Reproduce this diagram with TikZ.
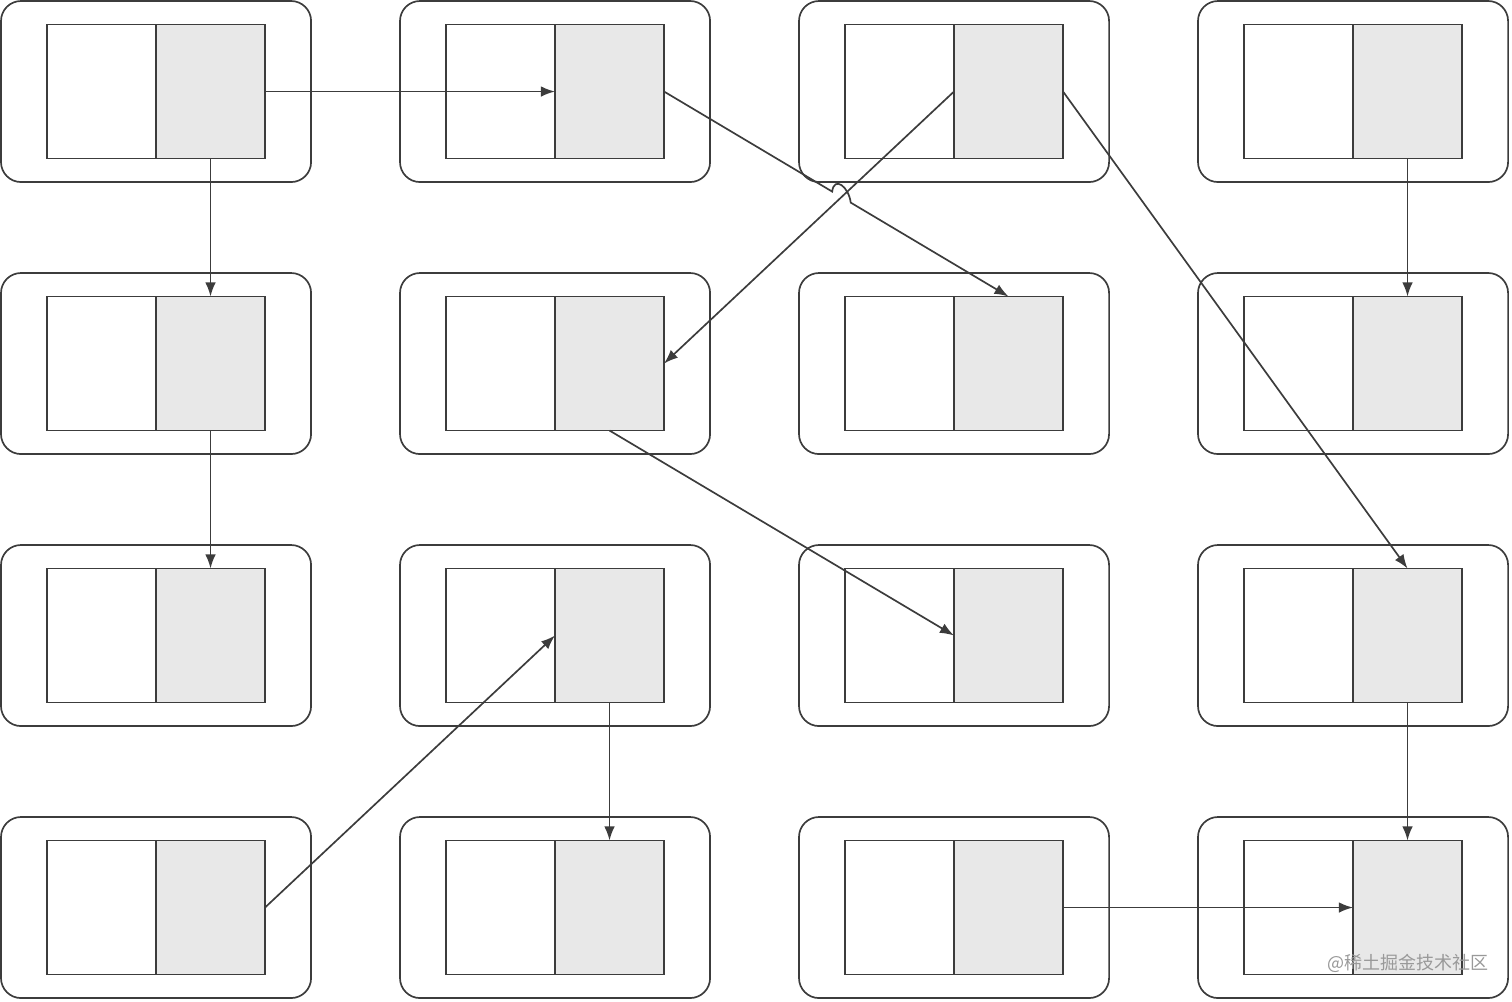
\documentclass[tikz,border=0pt]{standalone}
\usepackage{fontspec}
\newfontfamily\cjk{Noto Sans CJK SC}
\usetikzlibrary{arrows.meta,calc,intersections}
\definecolor{edge}{HTML}{3C3C3C}
\definecolor{grayfill}{HTML}{E8E8E8}
\begin{document}
\begin{tikzpicture}[x=0.025cm,y=-0.025cm,
  outerbox/.style={draw=edge,line width=1.2pt,rounded corners=0.5cm,minimum width=7.75cm,minimum height=4.525cm,inner sep=0pt,outer sep=0pt,anchor=north west},
  leftbox/.style={draw=edge,line width=1.2pt,fill=white,minimum width=2.725cm,minimum height=3.35cm,inner sep=0pt,outer sep=0pt,anchor=north west},
  graybox/.style={draw=edge,line width=1.2pt,fill=grayfill,minimum width=2.725cm,minimum height=3.35cm,inner sep=0pt,outer sep=0pt,anchor=north west},
  arr/.style={draw=edge,line width=1.2pt,-{Latex[length=10pt,width=7.5pt]}}]
\useasboundingbox (0,0) rectangle (1512,1001);
\foreach \r in {1,...,4}{
  \foreach \c in {1,...,4}{
    \pgfmathsetmacro{\ox}{1+399*(\c-1)}
    \pgfmathsetmacro{\oy}{1+272*(\r-1)}
    \node[outerbox] (o\r\c) at (\ox,\oy) {};
    \node[leftbox] (l\r\c) at (\ox+46,\oy+23.5) {};
    \node[graybox] (g\r\c) at (\ox+155,\oy+23.5) {};
  }
}
% straight connectors
\draw[arr] (g11.east) -- (g12.west);
\draw[arr] (g11.south) -- (g21.north);
\draw[arr] (g21.south) -- (g31.north);
\draw[arr, name path=lfive] (g13.west) -- (g22.east);
\draw[arr] (g13.east) -- (g34.north);
\draw[arr] (g14.south) -- (g24.north);
\draw[arr] (g22.south) -- (g33.west);
\draw[arr] (g41.east) -- (g32.west);
\draw[arr] (g32.south) -- (g42.north);
\draw[arr] (g34.south) -- (g44.north);
\draw[arr] (g43.east) -- (g44.west);
% connector with a line jump
\path[name path=lfour] (g12.east) -- (g23.north);
\path[name intersections={of=lfour and lfive, by=X}];
\coordinate (ja) at ($(X)!0.27cm!(g12.east)$);
\coordinate (jb) at ($(X)!0.27cm!(g23.north)$);
\draw[arr] (g12.east) -- (ja) .. controls ($(ja)+(2,-16)$) and ($(jb)+(-2,-16)$) .. (jb) -- (g23.north);
% watermark
\node[anchor=west,text=black!40,font=\cjk\fontsize{12.8pt}{14pt}\selectfont,inner sep=0pt] (wm) at (1327,963) {@稀土掘金技术社区};
\end{tikzpicture}
\end{document}
